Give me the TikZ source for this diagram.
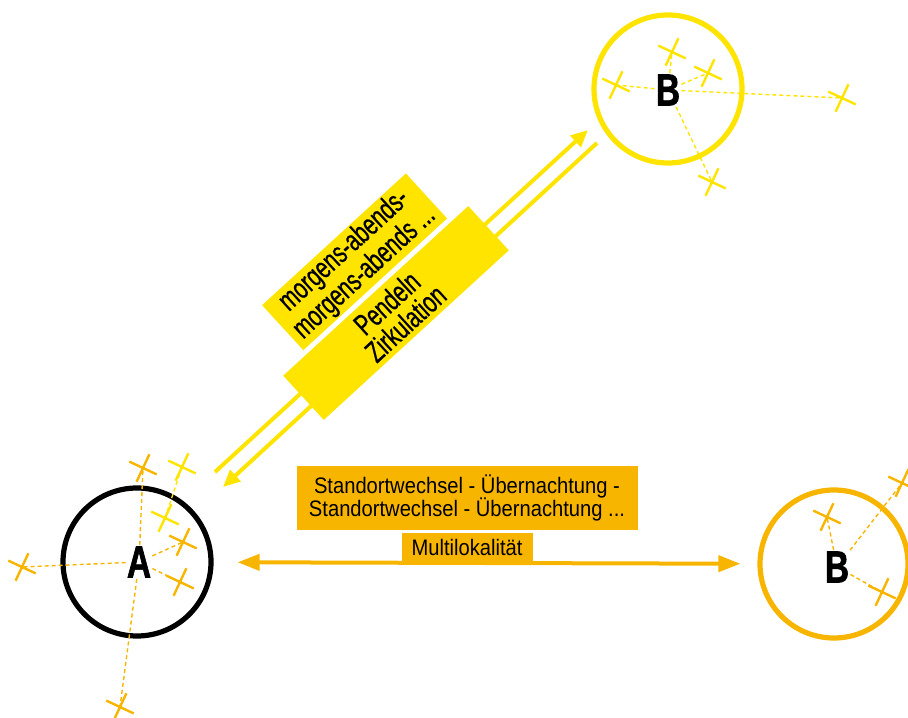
\documentclass[tikz,border=0pt]{standalone}
\usepackage{fontspec}
\setmainfont{Liberation Sans}[FakeStretch=0.9]
\newfontfamily\tagfont{Liberation Sans}[FakeStretch=0.7, FakeBold=0.6]
\newfontfamily\letterfont{Liberation Sans Bold}[FakeStretch=0.74, FakeBold=1.4]
\usetikzlibrary{arrows.meta,positioning,shapes.misc}
\definecolor{mobyellow}{HTML}{FFE400}
\definecolor{moborange}{HTML}{F8B500}

\begin{document}
\begin{tikzpicture}[
  x=0.5pt, y=0.5pt,
  ring/.style={circle, draw, line width=2.6pt, minimum size=74pt, inner sep=0pt},
  lab/.style={font=\letterfont\fontsize{22.5}{22.5}\selectfont, inner sep=0.5pt},
  xmark/.style={cross out, draw, line width=1.2pt, minimum size=9.5pt, inner sep=0pt, rotate=20},
  link/.style={dashed, dash pattern=on 2pt off 1.5pt, line width=0.7pt},
  tagbox/.style={inner sep=0pt, align=center, font=\fontsize{11.2}{11.8}\selectfont},
  ytag/.style={tagbox, fill=mobyellow, rotate=42.5, font=\tagfont\fontsize{15}{13.8}\selectfont},
  otag/.style={tagbox, fill=moborange},
  yarr/.style={-{Triangle[length=8.5pt,width=7.5pt]}, line width=2pt, draw=mobyellow},
  oarr/.style={{Triangle[length=11pt,width=8pt]}-{Triangle[length=11pt,width=8pt]}, line width=2pt, draw=moborange}
]
\useasboundingbox (0,0) rectangle (908,717);
\node[ring, draw=black] (cA) at (137,155) {};
\node[ring, draw=mobyellow] (cB1) at (668,628) {};
\node[ring, draw=moborange] (cB2) at (834,153) {};
\node[lab] (labA) at (139,155) {A};
\node[lab] (labB1) at (668,627) {B};
\node[lab] (labB2) at (837,150) {B};
\foreach \n/\p/\c in {xa1/{(143,249)}/moborange, xa2/{(182,250)}/mobyellow, xa3/{(165,199)}/mobyellow,
    xa4/{(183,175)}/moborange, xa5/{(180,135)}/moborange, xa6/{(22,150)}/moborange, xa7/{(120,10)}/moborange,
    xb1/{(672,665)}/mobyellow, xb2/{(708,644)}/mobyellow, xb3/{(616,632)}/mobyellow,
    xb4/{(842,619)}/mobyellow, xb5/{(712,535)}/mobyellow,
    xc1/{(827,200)}/moborange, xc2/{(882,125)}/moborange, xc3/{(902,234)}/moborange}
  \node[xmark, draw=\c] (\n) at \p {};
\foreach \x in {xa1,xa4,xa5,xa6,xa7}{\draw[link, draw=moborange] (labA) -- (\x.center);}
\draw[link, draw=mobyellow] (xa3.center) -- (xa2.center);
\foreach \x in {xb1,xb2,xb3,xb4,xb5}{\draw[link, draw=mobyellow] (labB1) -- (\x.center);}
\foreach \x in {xc1,xc2,xc3}{\draw[link, draw=moborange] (labB2) -- (\x.center);}
\coordinate (up1) at (215,245);
\coordinate (up2) at (588,587);
\coordinate (dn1) at (597,574);
\coordinate (dn2) at (223,230);
\draw[yarr] (up1) -- (up2);
\draw[yarr] (dn1) -- (dn2);
\draw[oarr, shorten <=12pt, shorten >=8.5pt] (cA) -- (cB2);
\node[ytag, minimum width=125.5pt, minimum height=30pt] (pend) at (396,404) {Pendeln\\Zirkulation};
\node[ytag, minimum width=97.5pt, minimum height=30.5pt, above=3pt of pend] (morg) {morgens-abends-\\morgens-abends ...};
\node[otag, minimum width=170.5pt, minimum height=32pt] (std) at (467,219) {Standortwechsel - Übernachtung -\\Standortwechsel - Übernachtung ...};
\node[otag, minimum width=65.5pt, minimum height=14.5pt, below=1pt of std] (multi) {Multilokalität};
\end{tikzpicture}
\end{document}
